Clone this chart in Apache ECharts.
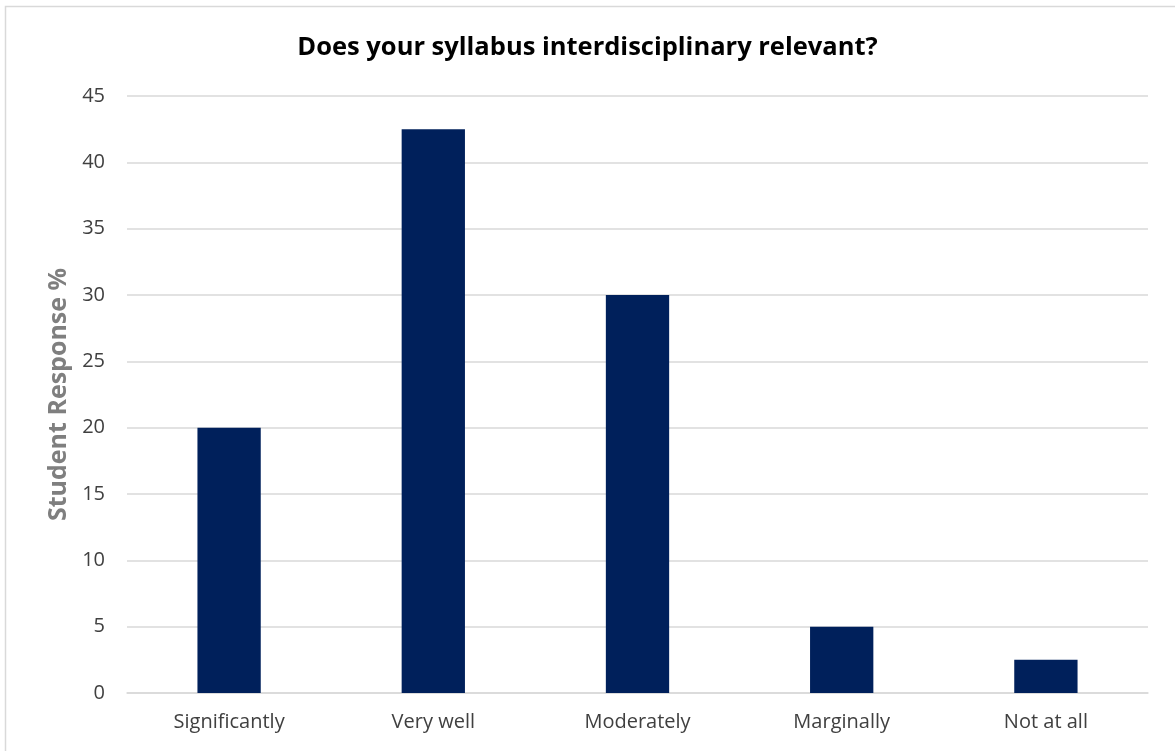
<!DOCTYPE html>
<html><head><meta charset="utf-8">
<script src="https://cdn.jsdelivr.net/npm/echarts@6/dist/echarts.min.js"></script>
<style>html,body{margin:0;padding:0;background:#fff}#c{width:1175px;height:751px}</style>
</head><body><div id="c"></div>
<script>
const categories = ["Significantly", "Very well", "Moderately", "Marginally", "Not at all"];
const responses = [20, 42.5, 30, 5, 2.5];
const titleText = "Does your syllabus interdisciplinary relevant?";
const yAxisName = "Student Response %";

const chart = echarts.init(document.getElementById('c'));
chart.setOption({
  animation: false,
  title: {
    text: titleText, left: 'center', top: 30,
    textStyle: { fontFamily: 'Open Sans', fontWeight: 'bold', fontSize: 25.5, color: '#000' }
  },
  graphic: [{
    type: 'rect', shape: { x: 5.5, y: 6.5, width: 1200, height: 800 },
    style: { fill: 'none', stroke: '#d9d9d9', lineWidth: 1.5 }, silent: true
  }],
  grid: { left: 127, right: 27, top: 96, bottom: 58 },
  xAxis: {
    type: 'category', data: categories,
    axisLine: { lineStyle: { color: '#d9d9d9', width: 1.5 } },
    axisTick: { show: false },
    axisLabel: { color: '#404040', fontSize: 20, fontFamily: 'Open Sans', margin: 19 }
  },
  yAxis: {
    type: 'value', min: 0, max: 45, interval: 5,
    name: yAxisName, nameLocation: 'middle', nameGap: 56,
    nameTextStyle: { color: '#7f7f7f', fontSize: 25, fontWeight: 'bold', fontFamily: 'Open Sans' },
    axisLine: { show: false }, axisTick: { show: false },
    axisLabel: { color: '#404040', fontSize: 20, fontFamily: 'Open Sans', margin: 22 },
    splitLine: { lineStyle: { color: '#d9d9d9', width: 1.5 } }
  },
  series: [{
    type: 'bar', data: responses, barWidth: '31%',
    itemStyle: { color: '#00205b' }
  }]
});
</script></body></html>
